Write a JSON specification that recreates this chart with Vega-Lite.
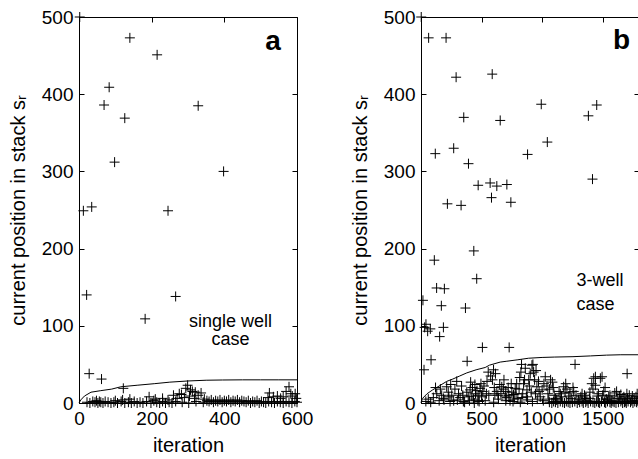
{
  "$schema": "https://vega.github.io/schema/vega-lite/v6.json",
  "padding": {"left": 7, "top": 7, "right": 0, "bottom": 5},
  "background": "white",
  "spacing": 124,
  "bounds": "flush",
  "config": {
    "font": "Liberation Sans",
    "view": {"stroke": "black", "strokeWidth": 1},
    "axis": {
      "domainColor": "black", "tickColor": "black", "labelColor": "black", "titleColor": "black",
      "labelFont": "Liberation Sans", "titleFont": "Liberation Sans",
      "labelFontSize": 19, "titleFontSize": 20, "titleFontWeight": "normal",
      "grid": false, "tickSize": -5, "labelPadding": 11, "labelFlush": false, "labelOverlap": false,
      "domainWidth": 1, "tickWidth": 1
    },
    "axisX": {"titlePadding": 7},
    "axisY": {"titlePadding": 13}
  },
  "datasets": {
    "ptsA": [
      {"x": 2, "y": 500}, {"x": 140, "y": 473}, {"x": 215, "y": 451}, {"x": 83, "y": 409}, {"x": 69, "y": 386}, {"x": 126, "y": 369}, {"x": 328, "y": 385}, {"x": 98, "y": 312}, {"x": 398, "y": 300}, {"x": 12, "y": 249}, {"x": 35, "y": 254}, {"x": 245, "y": 249}, {"x": 21, "y": 140}, {"x": 266, "y": 138}, {"x": 182, "y": 109}, {"x": 28, "y": 38}, {"x": 62, "y": 31}, {"x": 122, "y": 19},
      {"x": 193, "y": 8}, {"x": 260, "y": 10}, {"x": 270, "y": 6}, {"x": 276, "y": 12}, {"x": 282, "y": 11}, {"x": 290, "y": 7}, {"x": 294, "y": 19}, {"x": 299, "y": 23}, {"x": 304, "y": 9}, {"x": 307, "y": 17}, {"x": 312, "y": 15}, {"x": 318, "y": 6}, {"x": 320, "y": 14}, {"x": 328, "y": 10}, {"x": 336, "y": 13}, {"x": 345, "y": 5}, {"x": 520, "y": 7}, {"x": 524, "y": 13}, {"x": 535, "y": 8}, {"x": 546, "y": 9}, {"x": 555, "y": 6}, {"x": 562, "y": 8}, {"x": 570, "y": 15}, {"x": 578, "y": 21}, {"x": 583, "y": 12}, {"x": 587, "y": 9}, {"x": 595, "y": 12}, {"x": 598, "y": 6}, {"x": 210, "y": 5}, {"x": 230, "y": 6}, {"x": 245, "y": 4}, {"x": 120, "y": 4}, {"x": 100, "y": 3}, {"x": 140, "y": 5},
      {"x": 22, "y": 1}, {"x": 30, "y": 0}, {"x": 38, "y": 2}, {"x": 44, "y": 1}, {"x": 48, "y": 3}, {"x": 52, "y": 0}, {"x": 56, "y": 2}, {"x": 60, "y": 1}, {"x": 66, "y": 0}, {"x": 72, "y": 2}, {"x": 80, "y": 1}, {"x": 88, "y": 0}, {"x": 96, "y": 1}, {"x": 106, "y": 0}, {"x": 116, "y": 2}, {"x": 126, "y": 0}, {"x": 136, "y": 1}, {"x": 144, "y": 0}, {"x": 152, "y": 2}, {"x": 160, "y": 0}, {"x": 168, "y": 1}, {"x": 176, "y": 0}, {"x": 186, "y": 2}, {"x": 198, "y": 0}, {"x": 206, "y": 3}, {"x": 214, "y": 1}, {"x": 222, "y": 0}, {"x": 230, "y": 2}, {"x": 238, "y": 0}, {"x": 248, "y": 1}, {"x": 256, "y": 0}, {"x": 266, "y": 2}, {"x": 284, "y": 1}, {"x": 302, "y": 0}, {"x": 322, "y": 2}, {"x": 342, "y": 1}, {"x": 352, "y": 3}, {"x": 358, "y": 2}, {"x": 364, "y": 4}, {"x": 370, "y": 1}, {"x": 376, "y": 3}, {"x": 382, "y": 2}, {"x": 388, "y": 4}, {"x": 394, "y": 1}, {"x": 400, "y": 3}, {"x": 406, "y": 2}, {"x": 412, "y": 4}, {"x": 418, "y": 1}, {"x": 424, "y": 3}, {"x": 430, "y": 2}, {"x": 436, "y": 4}, {"x": 442, "y": 1}, {"x": 448, "y": 3}, {"x": 454, "y": 2}, {"x": 460, "y": 1}, {"x": 466, "y": 3}, {"x": 472, "y": 0}, {"x": 478, "y": 2}, {"x": 484, "y": 1}, {"x": 490, "y": 3}, {"x": 496, "y": 0}, {"x": 502, "y": 2}, {"x": 508, "y": 1}, {"x": 514, "y": 0}, {"x": 522, "y": 2}, {"x": 530, "y": 1}, {"x": 538, "y": 0}, {"x": 546, "y": 2}, {"x": 554, "y": 1}, {"x": 562, "y": 0}, {"x": 570, "y": 2}, {"x": 578, "y": 1}, {"x": 586, "y": 0}, {"x": 594, "y": 2}, {"x": 600, "y": 1}
    ],
    "lineA": [
      {"x": 0, "y": 0}, {"x": 5, "y": 4}, {"x": 15, "y": 9}, {"x": 33, "y": 14}, {"x": 60, "y": 16}, {"x": 90, "y": 18}, {"x": 115, "y": 21}, {"x": 160, "y": 23}, {"x": 207, "y": 25}, {"x": 250, "y": 27}, {"x": 299, "y": 28.5}, {"x": 350, "y": 29.5}, {"x": 395, "y": 29.8}, {"x": 450, "y": 30}, {"x": 500, "y": 30}, {"x": 550, "y": 30}, {"x": 600, "y": 30}
    ],
    "textA": [
      {"x": 417, "y": 99, "t": "single well"}, {"x": 417, "y": 75, "t": "case"}
    ],
    "tagA": [{"x": 534, "y": 457, "t": "a"}],
    "ptsB": [
      {"x": 2, "y": 500}, {"x": 63, "y": 473}, {"x": 207, "y": 473}, {"x": 290, "y": 422}, {"x": 588, "y": 426}, {"x": 353, "y": 370}, {"x": 654, "y": 366}, {"x": 993, "y": 387}, {"x": 1043, "y": 338}, {"x": 1382, "y": 372}, {"x": 1451, "y": 386}, {"x": 880, "y": 322}, {"x": 118, "y": 323}, {"x": 270, "y": 330}, {"x": 392, "y": 310}, {"x": 472, "y": 282}, {"x": 571, "y": 285}, {"x": 626, "y": 281}, {"x": 709, "y": 283}, {"x": 582, "y": 266}, {"x": 218, "y": 258}, {"x": 331, "y": 256}, {"x": 742, "y": 260}, {"x": 1416, "y": 290},
      {"x": 436, "y": 197}, {"x": 110, "y": 185}, {"x": 460, "y": 161}, {"x": 129, "y": 149}, {"x": 193, "y": 148}, {"x": 16, "y": 133}, {"x": 168, "y": 126}, {"x": 367, "y": 123}, {"x": 41, "y": 102}, {"x": 77, "y": 96}, {"x": 30, "y": 98}, {"x": 55, "y": 93}, {"x": 185, "y": 98}, {"x": 154, "y": 86}, {"x": 507, "y": 72}, {"x": 728, "y": 72}, {"x": 83, "y": 56}, {"x": 25, "y": 43}, {"x": 381, "y": 54}, {"x": 1272, "y": 50}, {"x": 1702, "y": 38}, {"x": 1440, "y": 34}, {"x": 1495, "y": 34}, {"x": 830, "y": 50}, {"x": 924, "y": 50},
      {"x": 102, "y": 7}, {"x": 130, "y": 12}, {"x": 171, "y": 10}, {"x": 190, "y": 4}, {"x": 212, "y": 21}, {"x": 230, "y": 8}, {"x": 254, "y": 10}, {"x": 270, "y": 3}, {"x": 295, "y": 28}, {"x": 310, "y": 12}, {"x": 323, "y": 7}, {"x": 350, "y": 2}, {"x": 378, "y": 14}, {"x": 405, "y": 17}, {"x": 420, "y": 9}, {"x": 433, "y": 5}, {"x": 450, "y": 12}, {"x": 470, "y": 3}, {"x": 488, "y": 19}, {"x": 500, "y": 8}, {"x": 510, "y": 15}, {"x": 530, "y": 3}, {"x": 545, "y": 28}, {"x": 560, "y": 10}, {"x": 575, "y": 35}, {"x": 599, "y": 43}, {"x": 610, "y": 12}, {"x": 626, "y": 15}, {"x": 640, "y": 5}, {"x": 650, "y": 24}, {"x": 667, "y": 21}, {"x": 680, "y": 18}, {"x": 695, "y": 9}, {"x": 708, "y": 7}, {"x": 720, "y": 20}, {"x": 735, "y": 3}, {"x": 750, "y": 14}, {"x": 764, "y": 11}, {"x": 778, "y": 19}, {"x": 790, "y": 25}, {"x": 800, "y": 6}, {"x": 815, "y": 33}, {"x": 833, "y": 7}, {"x": 847, "y": 25}, {"x": 861, "y": 45}, {"x": 875, "y": 17}, {"x": 890, "y": 30}, {"x": 902, "y": 38}, {"x": 916, "y": 49}, {"x": 930, "y": 40}, {"x": 945, "y": 12}, {"x": 957, "y": 21}, {"x": 970, "y": 28}, {"x": 985, "y": 8}, {"x": 1000, "y": 17}, {"x": 1026, "y": 34}, {"x": 1040, "y": 22}, {"x": 1055, "y": 5}, {"x": 1070, "y": 30}, {"x": 1085, "y": 27}, {"x": 1100, "y": 10}, {"x": 1120, "y": 4}, {"x": 1140, "y": 15}, {"x": 1160, "y": 8}, {"x": 1178, "y": 21}, {"x": 1190, "y": 14}, {"x": 1205, "y": 18}, {"x": 1220, "y": 9}, {"x": 1240, "y": 6}, {"x": 1261, "y": 15}, {"x": 1280, "y": 10}, {"x": 1300, "y": 4}, {"x": 1320, "y": 8}, {"x": 1350, "y": 10}, {"x": 1370, "y": 3}, {"x": 1390, "y": 6}, {"x": 1410, "y": 25}, {"x": 1426, "y": 32}, {"x": 1440, "y": 23}, {"x": 1455, "y": 9}, {"x": 1481, "y": 32}, {"x": 1500, "y": 10}, {"x": 1509, "y": 15}, {"x": 1530, "y": 5}, {"x": 1550, "y": 8}, {"x": 1575, "y": 3}, {"x": 1600, "y": 13}, {"x": 1620, "y": 6}, {"x": 1640, "y": 9}, {"x": 1660, "y": 4}, {"x": 1675, "y": 8}, {"x": 1690, "y": 2}, {"x": 1705, "y": 6}, {"x": 1720, "y": 10}, {"x": 1740, "y": 3}, {"x": 1760, "y": 6}, {"x": 1775, "y": 8}, {"x": 1790, "y": 3},
      {"x": 120, "y": 20}, {"x": 160, "y": 18}, {"x": 185, "y": 6}, {"x": 225, "y": 14}, {"x": 245, "y": 24}, {"x": 280, "y": 18}, {"x": 335, "y": 22}, {"x": 345, "y": 10}, {"x": 390, "y": 8}, {"x": 410, "y": 27}, {"x": 425, "y": 20}, {"x": 445, "y": 24}, {"x": 462, "y": 16}, {"x": 478, "y": 10}, {"x": 495, "y": 25}, {"x": 520, "y": 22}, {"x": 540, "y": 12}, {"x": 555, "y": 40}, {"x": 590, "y": 30}, {"x": 605, "y": 20}, {"x": 615, "y": 38}, {"x": 635, "y": 10}, {"x": 660, "y": 12}, {"x": 685, "y": 30}, {"x": 700, "y": 15}, {"x": 725, "y": 10}, {"x": 745, "y": 25}, {"x": 770, "y": 5}, {"x": 785, "y": 12}, {"x": 810, "y": 18}, {"x": 825, "y": 40}, {"x": 840, "y": 12}, {"x": 855, "y": 30}, {"x": 870, "y": 8}, {"x": 895, "y": 22}, {"x": 910, "y": 14}, {"x": 938, "y": 30}, {"x": 950, "y": 42}, {"x": 975, "y": 15}, {"x": 1015, "y": 25}, {"x": 1048, "y": 12}, {"x": 1062, "y": 18}, {"x": 1092, "y": 20}, {"x": 1110, "y": 6}, {"x": 1150, "y": 12}, {"x": 1195, "y": 25}, {"x": 1230, "y": 13}, {"x": 1255, "y": 20}, {"x": 1330, "y": 12}, {"x": 1360, "y": 6}, {"x": 1395, "y": 14}, {"x": 1420, "y": 18}, {"x": 1465, "y": 12}, {"x": 1520, "y": 20}, {"x": 1560, "y": 10}, {"x": 1615, "y": 15}, {"x": 1650, "y": 11}, {"x": 1700, "y": 12}, {"x": 1745, "y": 9}, {"x": 1785, "y": 12},
      {"x": 1060, "y": 1}, {"x": 1080, "y": 0}, {"x": 1095, "y": 2}, {"x": 1110, "y": 1}, {"x": 1130, "y": 0}, {"x": 1150, "y": 2}, {"x": 1170, "y": 1}, {"x": 1185, "y": 0}, {"x": 1200, "y": 2}, {"x": 1215, "y": 1}, {"x": 1230, "y": 0}, {"x": 1250, "y": 1}, {"x": 1270, "y": 2}, {"x": 1290, "y": 0}, {"x": 1310, "y": 1}, {"x": 1330, "y": 2}, {"x": 1340, "y": 0}, {"x": 1360, "y": 1}, {"x": 1380, "y": 0}, {"x": 1400, "y": 2}, {"x": 1420, "y": 1}, {"x": 1435, "y": 0}, {"x": 1450, "y": 2}, {"x": 1465, "y": 1}, {"x": 1475, "y": 0}, {"x": 1490, "y": 2}, {"x": 1515, "y": 1}, {"x": 1525, "y": 0}, {"x": 1540, "y": 2}, {"x": 1560, "y": 1}, {"x": 1570, "y": 0}, {"x": 1585, "y": 2}, {"x": 1595, "y": 1}, {"x": 1610, "y": 0}, {"x": 1630, "y": 1}, {"x": 1650, "y": 2}, {"x": 1665, "y": 0}, {"x": 1680, "y": 1}, {"x": 1695, "y": 0}, {"x": 1710, "y": 2}, {"x": 1730, "y": 1}, {"x": 1750, "y": 0}, {"x": 1765, "y": 2}, {"x": 1780, "y": 1}, {"x": 1795, "y": 0},
      {"x": 40, "y": 2}, {"x": 60, "y": 5}, {"x": 80, "y": 1}, {"x": 150, "y": 3}, {"x": 240, "y": 2}, {"x": 300, "y": 4}, {"x": 360, "y": 1}, {"x": 400, "y": 3}, {"x": 440, "y": 0}, {"x": 480, "y": 2}, {"x": 600, "y": 1}, {"x": 700, "y": 3}, {"x": 760, "y": 2}, {"x": 820, "y": 1}, {"x": 880, "y": 4}, {"x": 920, "y": 2}, {"x": 960, "y": 5}, {"x": 1010, "y": 3}
    ],
    "lineB": [
      {"x": 0, "y": 0}, {"x": 13, "y": 6}, {"x": 50, "y": 12}, {"x": 96, "y": 17}, {"x": 150, "y": 22}, {"x": 212, "y": 28}, {"x": 262, "y": 31}, {"x": 320, "y": 35}, {"x": 378, "y": 39}, {"x": 455, "y": 43}, {"x": 530, "y": 46}, {"x": 565, "y": 49}, {"x": 654, "y": 53}, {"x": 703, "y": 54}, {"x": 800, "y": 56}, {"x": 888, "y": 58}, {"x": 1000, "y": 59}, {"x": 1100, "y": 59.5}, {"x": 1255, "y": 60}, {"x": 1400, "y": 61}, {"x": 1531, "y": 62}, {"x": 1650, "y": 62.5}, {"x": 1800, "y": 62.5}
    ],
    "textB": [
      {"x": 1283, "y": 151, "t": "3-well"}, {"x": 1283, "y": 121, "t": "case"}
    ],
    "tagB": [{"x": 1656, "y": 459, "t": "b"}]
  },
  "hconcat": [
    {
      "width": 218, "height": 386,
      "resolve": {"axis": {"x": "independent", "y": "independent"}},
      "layer": [
        {
          "data": {"name": "ptsA"},
          "mark": {"type": "point", "shape": "M-1,0H1M0,-1V1", "filled": false, "stroke": "black", "strokeWidth": 1, "size": 100, "opacity": 1},
          "encoding": {
            "x": {"field": "x", "type": "quantitative", "scale": {"domain": [0, 600], "nice": false, "zero": false}, "axis": {"orient": "bottom", "values": [0, 200, 400, 600], "format": "d", "title": "iteration"}},
            "y": {"field": "y", "type": "quantitative", "scale": {"domain": [0, 500], "nice": false, "zero": false}, "axis": {"orient": "left", "values": [0, 100, 200, 300, 400, 500], "format": "d", "title": "current position in stack sᵣ"}}
          }
        },
        {
          "data": {"name": "lineA"},
          "mark": {"type": "line", "color": "black", "strokeWidth": 1},
          "encoding": {
            "x": {"field": "x", "type": "quantitative", "axis": {"orient": "top", "values": [0, 200, 400, 600], "labels": false, "title": null, "domain": false}},
            "y": {"field": "y", "type": "quantitative", "axis": {"orient": "right", "values": [0, 100, 200, 300, 400, 500], "labels": false, "title": null, "domain": false}}
          }
        },
        {
          "data": {"name": "textA"},
          "mark": {"type": "text", "align": "center", "baseline": "alphabetic", "fontSize": 18, "color": "black", "font": "Liberation Sans"},
          "encoding": {
            "x": {"field": "x", "type": "quantitative", "axis": null},
            "y": {"field": "y", "type": "quantitative", "axis": null},
            "text": {"field": "t"}
          }
        },
        {
          "data": {"name": "tagA"},
          "mark": {"type": "text", "align": "center", "baseline": "alphabetic", "fontSize": 28, "fontWeight": "bold", "color": "black", "font": "Liberation Sans"},
          "encoding": {
            "x": {"field": "x", "type": "quantitative", "axis": null},
            "y": {"field": "y", "type": "quantitative", "axis": null},
            "text": {"field": "t"}
          }
        }
      ]
    },
    {
      "width": 218, "height": 386,
      "resolve": {"axis": {"x": "independent", "y": "independent"}},
      "layer": [
        {
          "data": {"name": "ptsB"},
          "mark": {"type": "point", "shape": "M-1,0H1M0,-1V1", "filled": false, "stroke": "black", "strokeWidth": 1, "size": 100, "opacity": 1},
          "encoding": {
            "x": {"field": "x", "type": "quantitative", "scale": {"domain": [0, 1800], "nice": false, "zero": false}, "axis": {"orient": "bottom", "values": [0, 500, 1000, 1500], "format": "d", "title": "iteration"}},
            "y": {"field": "y", "type": "quantitative", "scale": {"domain": [0, 500], "nice": false, "zero": false}, "axis": {"orient": "left", "values": [0, 100, 200, 300, 400, 500], "format": "d", "title": "current position in stack sᵣ"}}
          }
        },
        {
          "data": {"name": "lineB"},
          "mark": {"type": "line", "color": "black", "strokeWidth": 1},
          "encoding": {
            "x": {"field": "x", "type": "quantitative", "axis": {"orient": "top", "values": [0, 500, 1000, 1500], "labels": false, "title": null, "domain": false}},
            "y": {"field": "y", "type": "quantitative", "axis": {"orient": "right", "values": [0, 100, 200, 300, 400, 500], "labels": false, "title": null, "domain": false}}
          }
        },
        {
          "data": {"name": "textB"},
          "mark": {"type": "text", "align": "left", "baseline": "alphabetic", "fontSize": 18, "color": "black", "font": "Liberation Sans"},
          "encoding": {
            "x": {"field": "x", "type": "quantitative", "axis": null},
            "y": {"field": "y", "type": "quantitative", "axis": null},
            "text": {"field": "t"}
          }
        },
        {
          "data": {"name": "tagB"},
          "mark": {"type": "text", "align": "center", "baseline": "alphabetic", "fontSize": 28, "fontWeight": "bold", "color": "black", "font": "Liberation Sans"},
          "encoding": {
            "x": {"field": "x", "type": "quantitative", "axis": null},
            "y": {"field": "y", "type": "quantitative", "axis": null},
            "text": {"field": "t"}
          }
        }
      ]
    }
  ]
}
